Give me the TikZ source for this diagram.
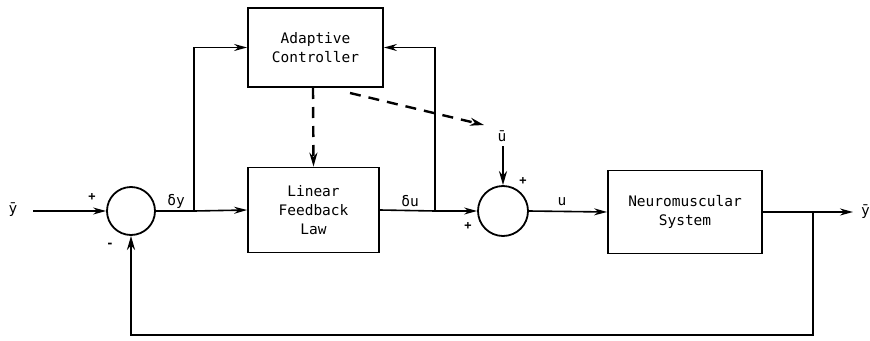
\documentclass[tikz,border=0pt]{standalone}
\usepackage{fontspec}
\setmainfont{DejaVu Sans Mono}
\usetikzlibrary{arrows.meta}
\begin{document}
\begin{tikzpicture}[x=1pt,y=-1pt,
  blk/.style={draw,line width=1.8pt,minimum width=#1,inner sep=0pt,align=center,font=\fontsize{14.5}{19}\selectfont},
  sumc/.style={draw,circle,line width=1.8pt,minimum size=48pt,inner sep=0pt},
  lbl/.style={font=\fontsize{14.5}{16}\selectfont,inner sep=0pt},
  sgn/.style={font=\fontsize{12}{14}\selectfont\bfseries,inner sep=0pt},
  conn/.style={line width=1.6pt,-{Stealth[length=13pt,width=7pt]}},
  plain/.style={line width=1.6pt},
  thick/.style={line width=2.6pt,-{Stealth[length=14pt,width=8pt]}},
  dsh/.style={line width=2.4pt,dash pattern=on 11pt off 8pt,-{Stealth[length=14pt,width=8pt]}}]
\useasboundingbox (0,0) rectangle (870,340);
\fill[white] (0,0) rectangle (870,340);
% blocks
\node[blk=135pt,minimum height=79pt] (ac) at (315.5,47.5) {Adaptive\\Controller};
\node[blk=131pt,minimum height=85pt] (lf) at (313.5,210) {Linear\\Feedback\\Law};
\node[blk=154pt,minimum height=83pt] (nm) at (685,212) {Neuromuscular\\System};
\node[sumc] (s1) at (131,211) {};
\node[sumc,minimum size=50pt] (s2) at (503,211) {};
% coordinates
\coordinate (in) at (33,211);
\coordinate (j1) at (194,211);
\coordinate (j2) at (435,211);
\coordinate (j3) at (813,212);
\coordinate (out) at (853,212);
\coordinate (ub) at (503,146);
\coordinate (d1) at (313,88);
\coordinate (d2) at (350,93);
\coordinate (d2e) at (484,125);
% labels
\node[lbl] (ly) at (13,210) {ȳ};
\node[lbl,anchor=east] (lyo) at (870,212) {ȳ};
\node[lbl] (ldy) at (176,201) {δy};
\node[lbl] (ldu) at (410,201) {δu};
\node[lbl] (lu) at (562,202) {u};
\node[lbl] (lub) at (502,136) {ū};
\node[sgn] (p1) at (92,197) {+};
\node[sgn] (m1) at (110,245) {-};
\node[sgn] (p2) at (523,181) {+};
\node[sgn] (p3) at (468,226) {+};
% connectors
\draw[conn] (in) -- (s1.west);
\draw[plain] (s1.east) -- (j1);
\draw[conn] (j1) -- (lf.west);
\draw[conn] (j1) |- (ac.west);
\draw[plain] (lf.east) -- (j2);
\draw[conn] (j2) -- (s2.west);
\draw[conn] (j2) |- (ac.east);
\draw[thick] (ub) -- (s2.north);
\draw[conn] (s2.east) -- (nm.west);
\draw[plain] (nm.east) -- (j3);
\draw[conn] (j3) -- (out);
\draw[thick] (j3) -- (813,335) -- (131,335) -- (s1.south);
\draw[dsh] (d1) -- (lf.north);
\draw[dsh] (d2) -- (d2e);
\end{tikzpicture}
\end{document}
